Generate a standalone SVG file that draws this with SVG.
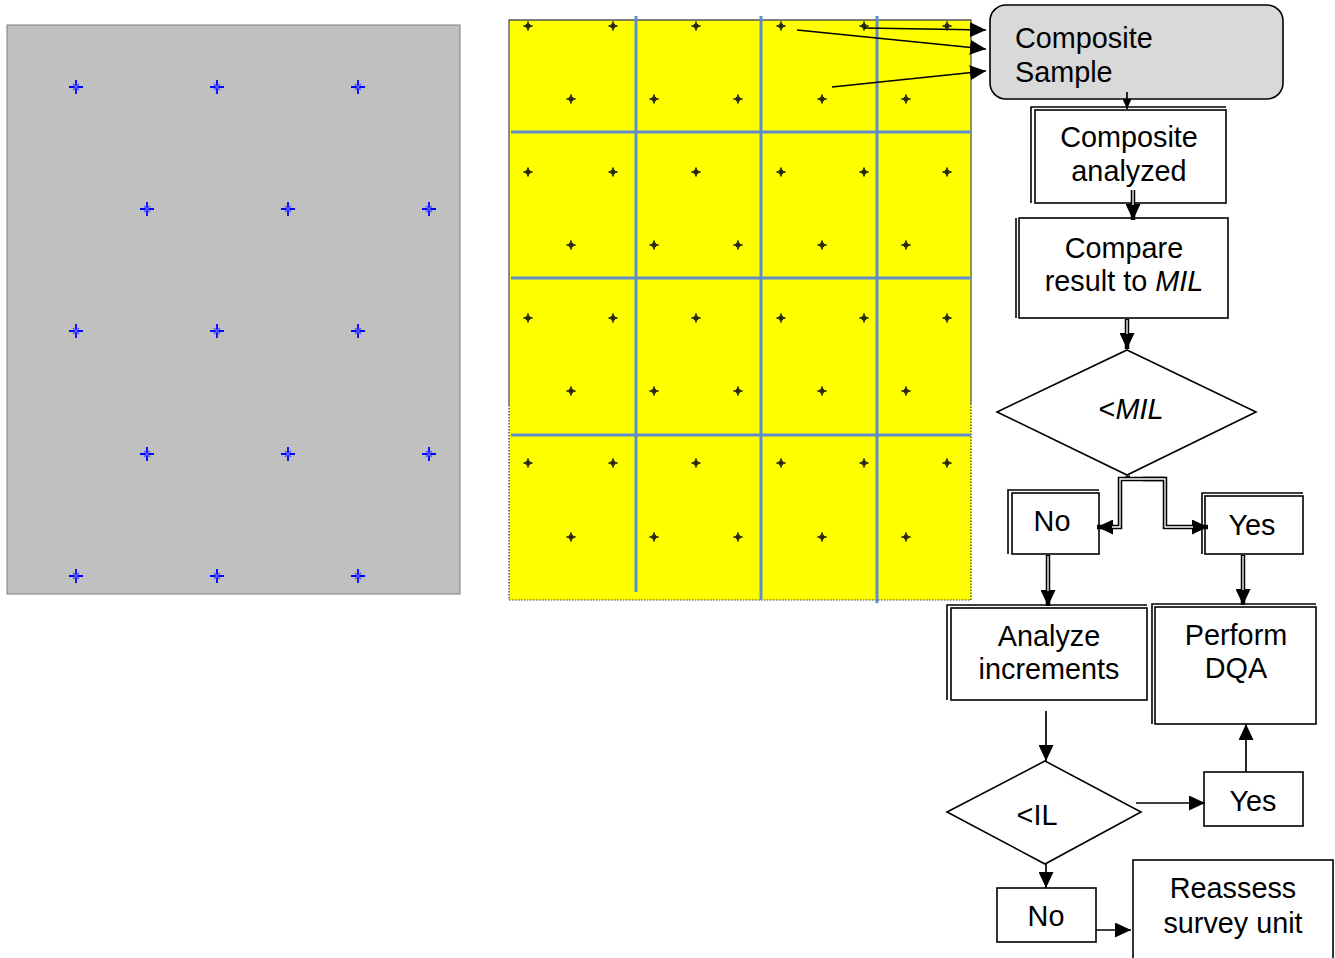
<svg xmlns="http://www.w3.org/2000/svg" width="1335" height="958" viewBox="0 0 1335 958">
<defs>
<marker id="ah" markerUnits="userSpaceOnUse" markerWidth="16" markerHeight="15" refX="16" refY="7.5" orient="auto"><path d="M0,0 L16,7.5 L0,15 z" fill="#000"/></marker>
<marker id="ahs" markerUnits="userSpaceOnUse" markerWidth="10" markerHeight="9" refX="10" refY="4.5" orient="auto"><path d="M0,0 L10,4.5 L0,9 z" fill="#000"/></marker>
<g id="bx"><path d="M-7,0 H7 M0,-7 V7" stroke="#0000ff" stroke-width="1.8"/><path d="M-3,-3 L3,3 M-3,3 L3,-3" stroke="#5a5aff" stroke-width="1.6"/></g>
<g id="kx"><path d="M-4.5,0 H4.5 M0,-4.5 V4.5" stroke="#000" stroke-width="1.5"/><path d="M-2,-2 L2,2 M-2,2 L2,-2" stroke="#222" stroke-width="1.1"/></g>
</defs>
<style>
.t{font-family:"Liberation Sans",Arial,sans-serif;font-size:28.8px;fill:#000}
.m{text-anchor:middle}
.box{fill:#fff;stroke:#000;stroke-width:1.6}
.sh{fill:none;stroke:#000;stroke-width:1.6}
.ln{fill:none;stroke:#000;stroke-width:1.7}
.dblk{fill:none;stroke:#000;stroke-width:4.5}
.dblw{fill:none;stroke:#fff;stroke-width:1.3}
.blu{stroke:#5f8dcb;stroke-width:3;fill:none}
</style>
<rect width="1335" height="958" fill="#fff"/>
<g id="grey-panel">
<rect x="7" y="25" width="453" height="569" fill="#c0c0c0" stroke="#7f7f7f" stroke-width="1"/>
<use href="#bx" x="76" y="87"/><use href="#bx" x="217" y="87"/><use href="#bx" x="358" y="87"/>
<use href="#bx" x="147" y="209"/><use href="#bx" x="288" y="209"/><use href="#bx" x="429" y="209"/>
<use href="#bx" x="76" y="331"/><use href="#bx" x="217" y="331"/><use href="#bx" x="358" y="331"/>
<use href="#bx" x="147" y="454"/><use href="#bx" x="288" y="454"/><use href="#bx" x="429" y="454"/>
<use href="#bx" x="76" y="576"/><use href="#bx" x="217" y="576"/><use href="#bx" x="358" y="576"/>
</g>
<g id="yellow-grid">
<rect x="509" y="20" width="462" height="580" fill="#ffff00"/>
<path d="M509,405 V20 H971 V405" fill="none" stroke="#555" stroke-width="1.3"/>
<path d="M509,405 V600 H971 V405" fill="none" stroke="#333" stroke-width="1.2" stroke-dasharray="1.5,1.5"/>
<path class="blu" d="M511,132 H971 M511,278 H971 M511,435 H971"/>
<path class="blu" d="M636,16 V592 M761,16 V600 M877,16 V603"/>
<g>
<use href="#kx" x="528" y="26"/><use href="#kx" x="613" y="26"/><use href="#kx" x="696" y="26"/><use href="#kx" x="781" y="26"/><use href="#kx" x="864" y="26"/><use href="#kx" x="947" y="26"/>
<use href="#kx" x="571" y="99"/><use href="#kx" x="654" y="99"/><use href="#kx" x="738" y="99"/><use href="#kx" x="822" y="99"/><use href="#kx" x="906" y="99"/>
<use href="#kx" x="528" y="172"/><use href="#kx" x="613" y="172"/><use href="#kx" x="696" y="172"/><use href="#kx" x="781" y="172"/><use href="#kx" x="864" y="172"/><use href="#kx" x="947" y="172"/>
<use href="#kx" x="571" y="245"/><use href="#kx" x="654" y="245"/><use href="#kx" x="738" y="245"/><use href="#kx" x="822" y="245"/><use href="#kx" x="906" y="245"/>
<use href="#kx" x="528" y="318"/><use href="#kx" x="613" y="318"/><use href="#kx" x="696" y="318"/><use href="#kx" x="781" y="318"/><use href="#kx" x="864" y="318"/><use href="#kx" x="947" y="318"/>
<use href="#kx" x="571" y="391"/><use href="#kx" x="654" y="391"/><use href="#kx" x="738" y="391"/><use href="#kx" x="822" y="391"/><use href="#kx" x="906" y="391"/>
<use href="#kx" x="528" y="463"/><use href="#kx" x="613" y="463"/><use href="#kx" x="696" y="463"/><use href="#kx" x="781" y="463"/><use href="#kx" x="864" y="463"/><use href="#kx" x="947" y="463"/>
<use href="#kx" x="571" y="537"/><use href="#kx" x="654" y="537"/><use href="#kx" x="738" y="537"/><use href="#kx" x="822" y="537"/><use href="#kx" x="906" y="537"/>
</g>
</g>
<g id="composite-sample">
<rect x="990" y="5" width="293" height="94" rx="16" fill="#d9d9d9" stroke="#000" stroke-width="1.6"/>
<text class="t" x="1015" y="48">Composite</text>
<text class="t" x="1015" y="82">Sample</text>
</g>
<g id="composite-analyzed">
<rect class="box" x="1035" y="110" width="191" height="93"/>
<path class="sh" d="M1031,203 V107 H1226"/>
<text class="t m" x="1129" y="147">Composite</text>
<text class="t m" x="1129" y="181">analyzed</text>
</g>
<g id="compare">
<rect class="box" x="1019" y="218" width="209" height="100"/>
<path class="sh" d="M1016,318 V218"/>
<text class="t m" x="1124" y="258">Compare</text>
<text class="t m" x="1124" y="291">result to <tspan font-style="italic">MIL</tspan></text>
</g>
<g id="decision-mil">
<polygon points="1127,350 1256,412 1127,475 997,412" fill="#fff" stroke="#000" stroke-width="1.6"/>
<text class="t m" x="1131" y="419">&lt;<tspan font-style="italic">MIL</tspan></text>
</g>
<g id="no-1">
<rect class="box" x="1012" y="493" width="87" height="61"/>
<path class="sh" d="M1008,554 V490 H1099"/>
<text class="t m" x="1052" y="531">No</text>
</g>
<g id="yes-1">
<rect class="box" x="1205" y="496" width="98" height="58"/>
<path class="sh" d="M1202,554 V493 H1303"/>
<text class="t m" x="1252" y="535">Yes</text>
</g>
<g id="analyze">
<rect class="box" x="951" y="608" width="196" height="92"/>
<path class="sh" d="M947,700 V605 H1147"/>
<text class="t m" x="1049" y="646">Analyze</text>
<text class="t m" x="1049" y="679">increments</text>
</g>
<g id="perform-dqa">
<rect class="box" x="1155" y="607" width="161" height="117"/>
<path class="sh" d="M1152,724 V604 H1316"/>
<text class="t m" x="1236" y="645">Perform</text>
<text class="t m" x="1236" y="678">DQA</text>
</g>
<g id="decision-il">
<polygon points="1045,761 1141,812 1045,864 947,812" fill="#fff" stroke="#000" stroke-width="1.6"/>
<text class="t m" x="1037" y="825">&lt;IL</text>
</g>
<g id="yes-2">
<rect class="box" x="1204" y="772" width="99" height="54"/>
<text class="t m" x="1253" y="811">Yes</text>
</g>
<g id="no-2">
<rect class="box" x="997" y="888" width="99" height="54"/>
<text class="t m" x="1046" y="926">No</text>
</g>
<g id="reassess">
<rect class="box" x="1133" y="860" width="200" height="104"/>
<text class="t m" x="1233" y="898">Reassess</text>
<text class="t m" x="1233" y="933">survey unit</text>
</g>
<g id="connectors">
<path class="ln" d="M864,28 L986,30" marker-end="url(#ah)"/>
<path class="ln" d="M797,30 L986,49" marker-end="url(#ah)"/>
<path class="ln" d="M832,87 L986,71" marker-end="url(#ah)"/>
<path class="ln" d="M1127,92 V109" marker-end="url(#ahs)"/>
<path class="dblk" d="M1133,190 V220" marker-end="url(#ah)"/>
<path class="dblw" d="M1133,190 V205"/>
<path class="dblk" d="M1127,319 V349" marker-end="url(#ah)"/>
<path class="dblw" d="M1127,320 V334"/>
<path class="ln" d="M1130,476 L1120,479"/>
<path class="dblk" d="M1165,479 H1120 V527 H1097" marker-end="url(#ah)"/>
<path class="dblw" d="M1165,479 H1120 V527 H1112"/>
<path class="dblk" d="M1143,479 H1165 V527 H1208" marker-end="url(#ah)"/>
<path class="dblw" d="M1143,479 H1165 V527 H1193"/>
<path class="dblk" d="M1048,555 V606" marker-end="url(#ah)"/>
<path class="dblw" d="M1048,556 V591"/>
<path class="dblk" d="M1243,555 V605" marker-end="url(#ah)"/>
<path class="dblw" d="M1243,556 V590"/>
<path class="ln" d="M1046,711 V761" marker-end="url(#ah)"/>
<path class="ln" d="M1136,803 H1205" marker-end="url(#ah)"/>
<path class="ln" d="M1246,772 V724" marker-end="url(#ah)"/>
<path class="ln" d="M1046,864 V888" marker-end="url(#ah)"/>
<path class="ln" d="M1096,930 H1131" marker-end="url(#ah)"/>
</g>
</svg>
